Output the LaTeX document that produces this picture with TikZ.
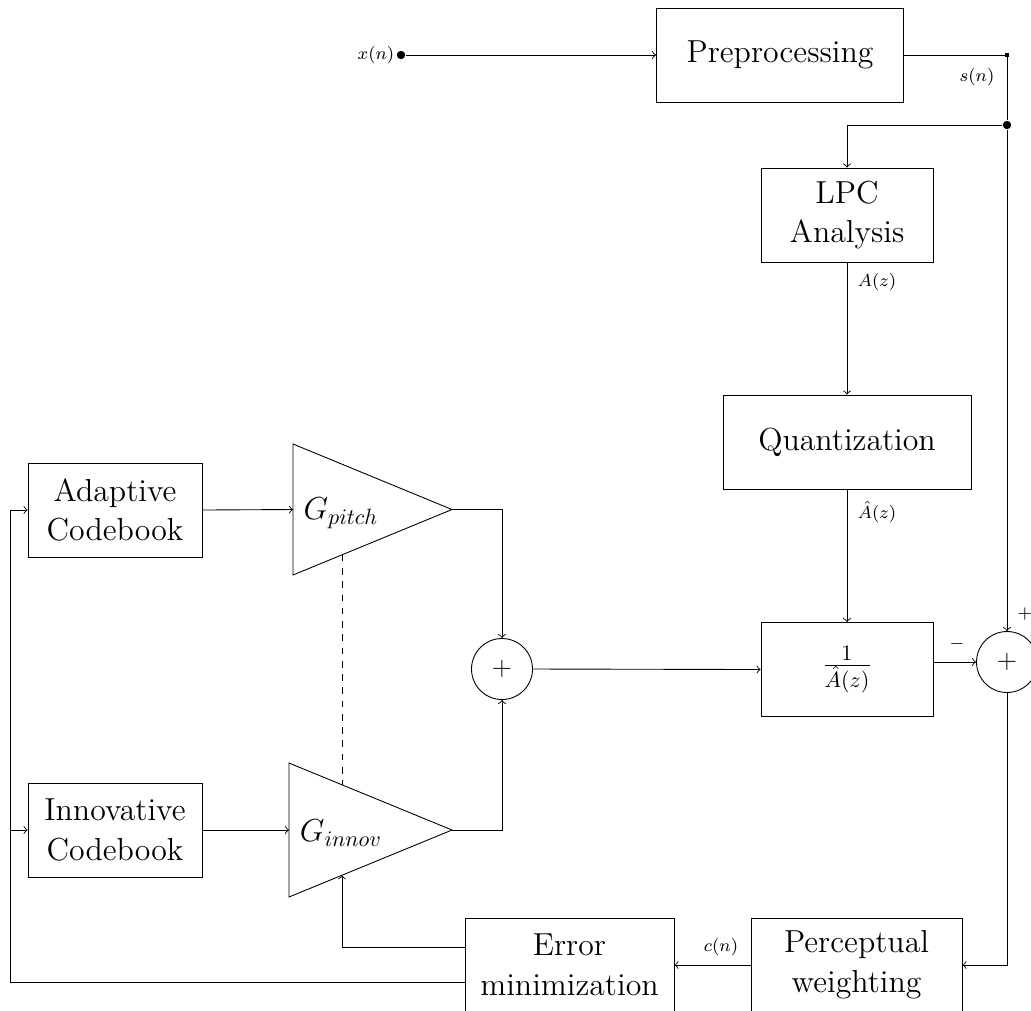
\documentclass[tikz,border=0pt]{standalone}
\begin{document}
\begin{tikzpicture}[x=0.4525pt, y=-0.4525pt,
  block/.style={draw, rectangle, font=\Large, align=center, inner sep=2pt,
                minimum height=42.5pt},
  sumnode/.style={draw, circle, inner sep=0pt, minimum size=27.6pt, font=\large},
  bigdot/.style={circle, fill, inner sep=0pt, minimum size=3.8pt},
  tinydot/.style={rectangle, fill, inner sep=0pt, minimum size=1.5pt},
  lbl/.style={font=\footnotesize, inner sep=0pt},
  gain/.style={font=\Large, inner sep=0pt}]

\useasboundingbox (0,0) rectangle (1031,1010);

% blocks
\node[block, minimum width=111.8pt] (pre) at (780,55) {Preprocessing};
\node[block, minimum width=77.8pt] (lpc) at (847,215) {LPC\\Analysis};
\node[block, minimum width=112.2pt] (quant) at (847,442) {Quantization};
\node[block, minimum width=77.8pt] (inv) at (847,669.5) {$\frac{1}{\hat{A}(z)}$};
\node[block, minimum width=78.7pt] (adapt) at (115,510) {Adaptive\\Codebook};
\node[block, minimum width=78.7pt] (innov) at (115,830) {Innovative\\Codebook};
\node[block, minimum width=94.6pt] (err) at (569.5,965) {Error\\minimization};
\node[block, minimum width=95.5pt] (perc) at (856.5,965) {Perceptual\\weighting};

% adders
\node[sumnode] (sum1) at (502,669) {$+$};
\node[sumnode] (sum2) at (1007,662) {$+$};

% junction dots
\node[bigdot] (xin) at (401,55) {};
\node[tinydot] (corner) at (1007,55) {};
\node[bigdot] (split) at (1007,125) {};

% gain triangles
\coordinate (gp-in) at (293,509.5);
\coordinate (gp-out) at (452,509.5);
\coordinate (gp-bot) at (342,554.8);
\draw (293,444) -- (gp-out) -- (293,575) -- cycle;
\node[gain] (gp) at (341,513) {$G_{pitch}$};

\coordinate (gi-in) at (289,830);
\coordinate (gi-out) at (452,830);
\coordinate (gi-top) at (342,784.8);
\coordinate (gi-bot) at (342,875.2);
\draw (289,763) -- (gi-out) -- (289,897) -- cycle;
\node[gain] (gi) at (341,833) {$G_{innov}$};

% signal labels
\node[lbl] (lx) at (376,55) {$x(n)$};
\node[lbl] (ls) at (977,77) {$s(n)$};
\node[lbl] (la) at (877,282) {$A(z)$};
\node[lbl] (lah) at (877,512) {$\hat{A}(z)$};
\node[lbl] (lplus) at (1025,614) {$+$};
\node[lbl] (lminus) at (957,644) {$-$};
\node[lbl] (lc) at (721,947) {$c(n)$};

% forward path
\draw[->] (xin) -- (pre.west);
\draw (pre.east) -- (corner.center) -- (split);
\draw[->] (split) -| (lpc.north);
\draw[->] (split) -- (sum2.north);
\draw[->] (lpc.south) -- (quant.north);
\draw[->] (quant.south) -- (inv.north);
\draw[->] (inv.east |- sum2.west) -- (sum2.west);
\draw[->] (sum2.south) |- (perc.east);
\draw[->] (perc.west) -- (err.east);

% excitation path
\draw[->] (adapt.east) -- (gp-in);
\draw[->] (innov.east) -- (gi-in);
\draw[->] (gp-out) -| (sum1.north);
\draw[->] (gi-out) -| (sum1.south);
\draw[->] (sum1.east) -- (inv.west);
\draw[dashed] (gp-bot) -- (gi-top);

% feedback from the error minimization
\coordinate (lft) at (10,510);
\draw[->] ([yshift=8.1pt]err.west) -| (gi-bot);
\draw[->] ([yshift=-8.1pt]err.west) -| (lft) -- (adapt.west);
\draw[->] ([yshift=-8.1pt]err.west) -| (lft |- innov.west) -- (innov.west);
\end{tikzpicture}
\end{document}
